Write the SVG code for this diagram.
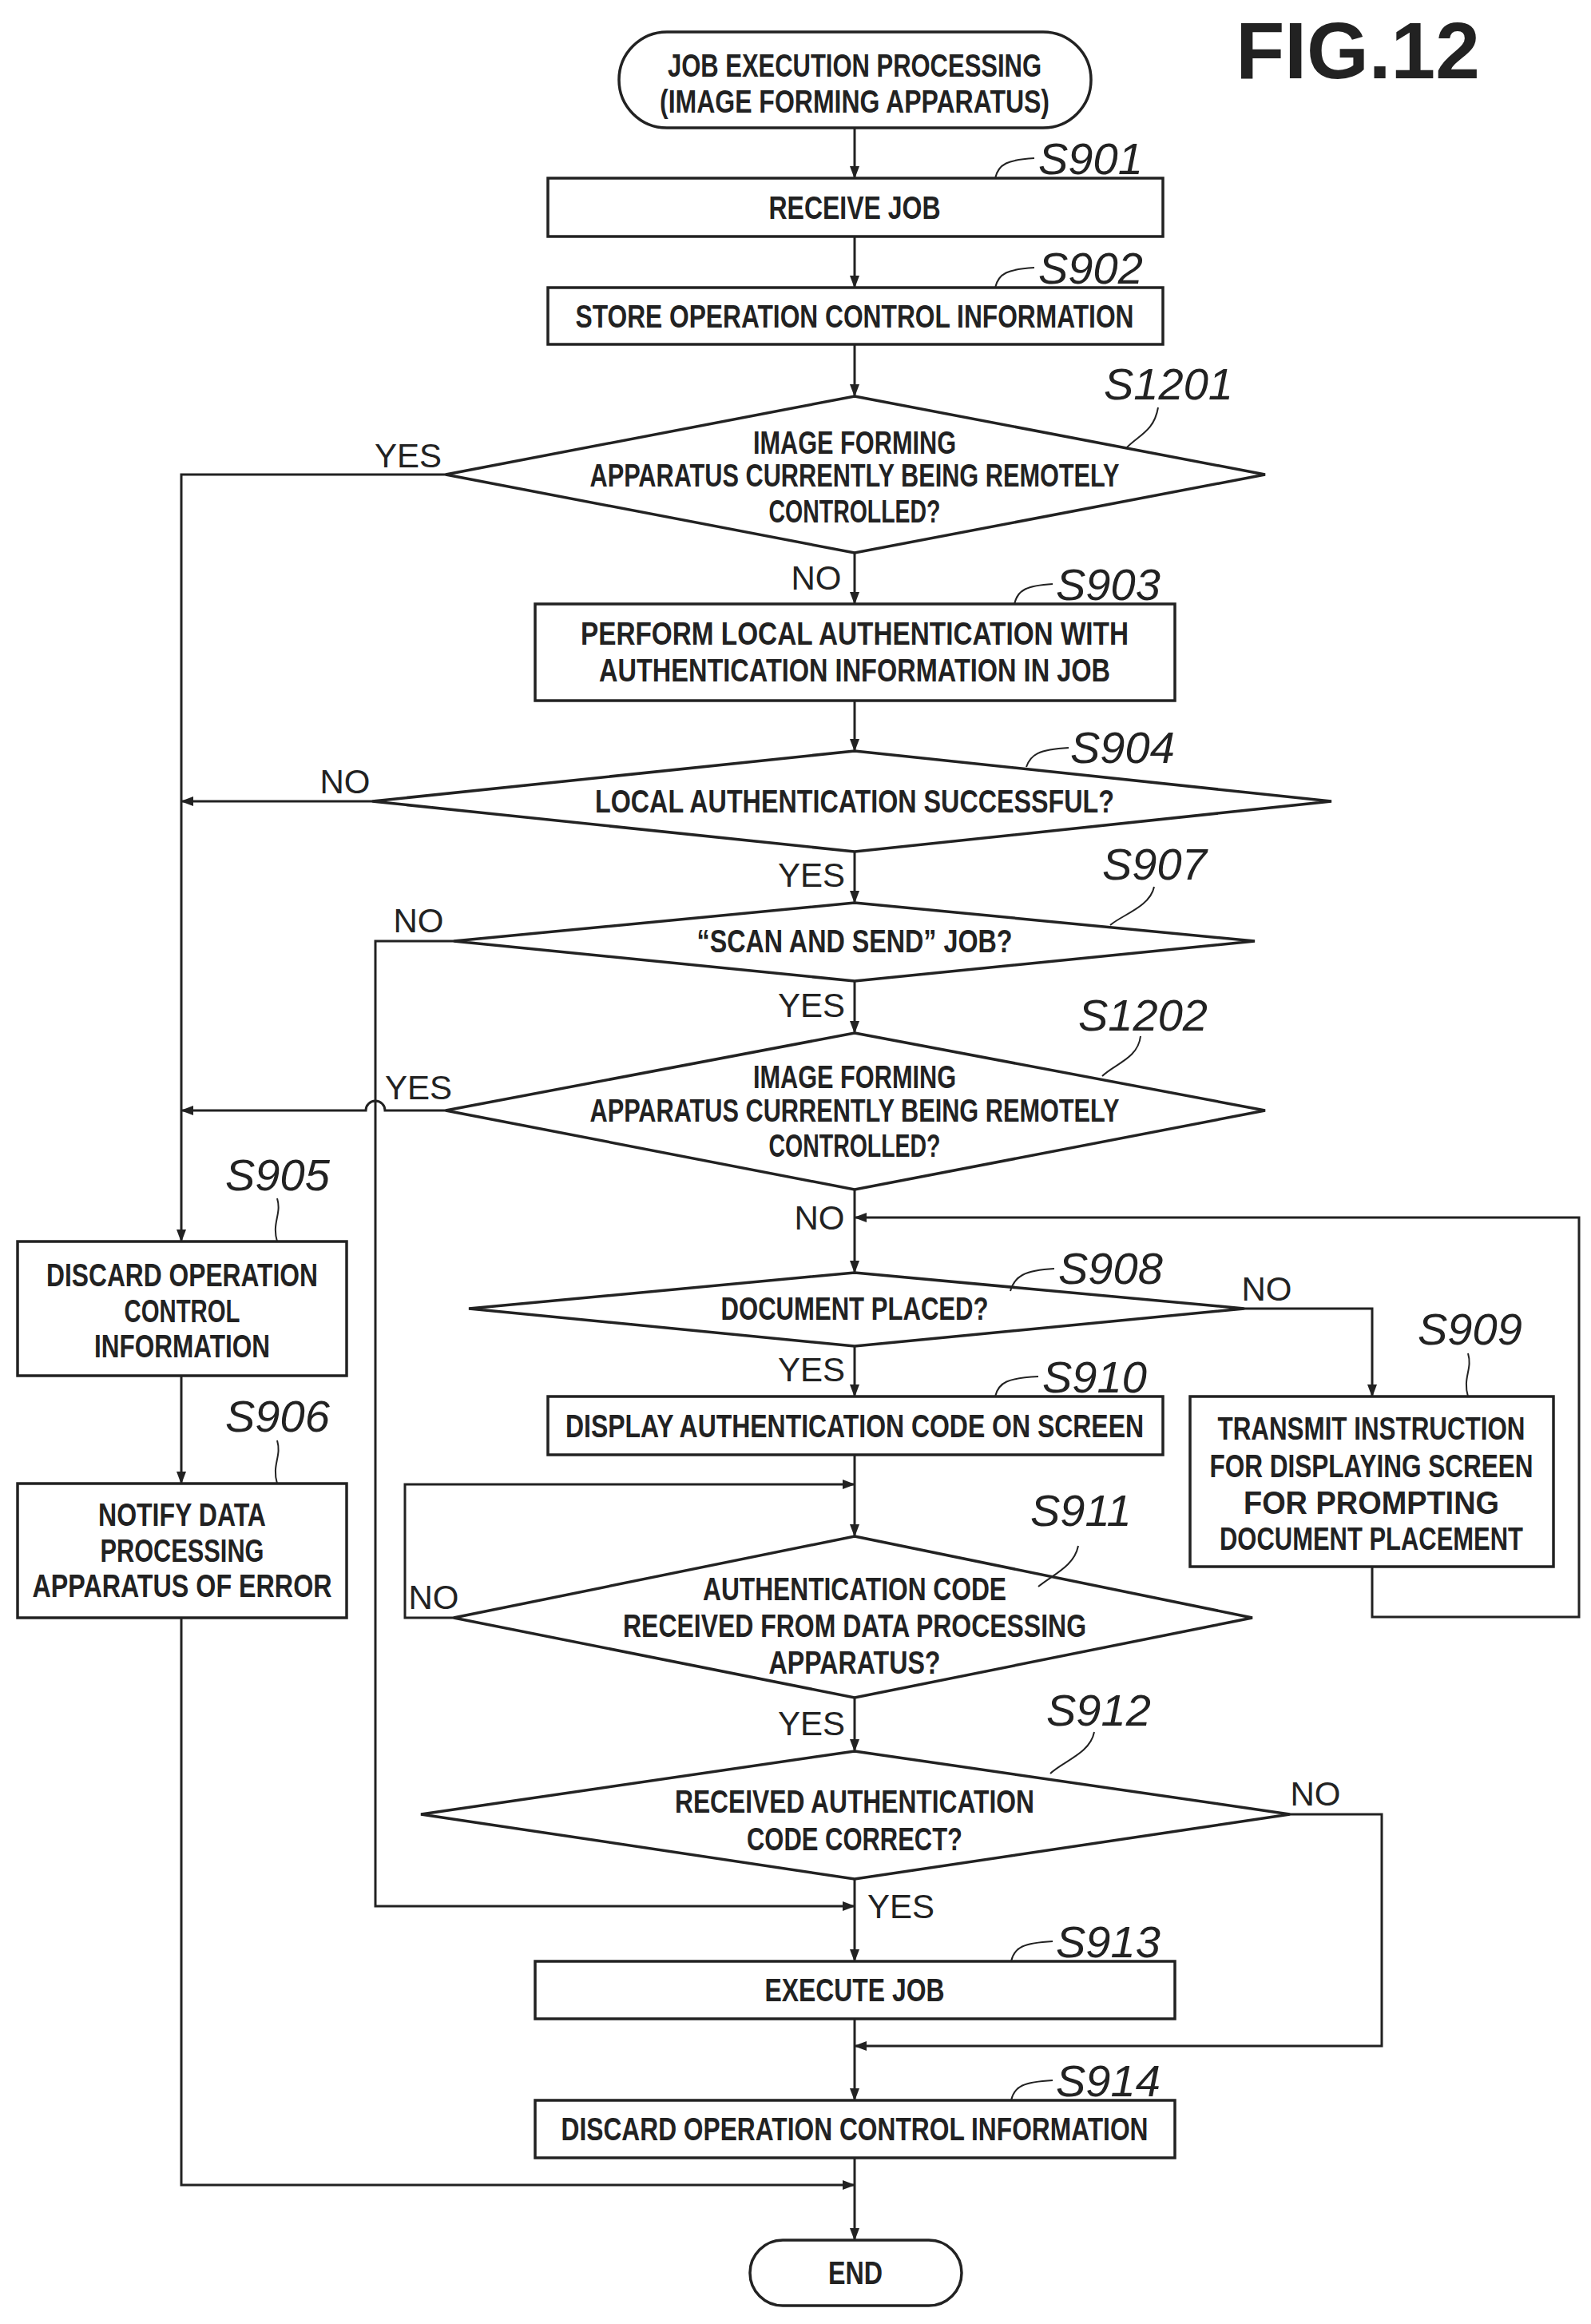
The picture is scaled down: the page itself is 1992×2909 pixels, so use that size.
<svg xmlns="http://www.w3.org/2000/svg" width="1992" height="2909" viewBox="0 0 1992 2909">
<style>
.b{fill:#fff;stroke:#222;stroke-width:3.5}
.t{font-family:"Liberation Sans",Arial,sans-serif;font-size:40px;font-weight:bold;fill:#222;text-anchor:middle}
.s{font-family:"Liberation Sans",Arial,sans-serif;font-size:56px;font-style:italic;fill:#222}
.l{font-family:"Liberation Sans",Arial,sans-serif;font-size:42px;fill:#222;text-anchor:middle}
.c{fill:none;stroke:#222;stroke-width:3}
.ld{fill:none;stroke:#222;stroke-width:2}
</style>
<defs><marker id="a" markerWidth="16" markerHeight="12" refX="15" refY="6" orient="auto" markerUnits="userSpaceOnUse"><path d="M0,0 L16,6 L0,12 Z" fill="#222"/></marker></defs>
<rect width="1992" height="2909" fill="#fff"/>
<text x="1700" y="98" style="font-family:'Liberation Sans',Arial,sans-serif;font-size:100px;font-weight:bold;fill:#222;text-anchor:middle">FIG.12</text>
<g id="connectors">
<path class="c" marker-end="url(#a)" d="M1070,160V223"/>
<path class="c" marker-end="url(#a)" d="M1070,296V360"/>
<path class="c" marker-end="url(#a)" d="M1070,431V496"/>
<path class="c" marker-end="url(#a)" d="M1070,692V756"/>
<path class="c" marker-end="url(#a)" d="M1070,877V940"/>
<path class="c" marker-end="url(#a)" d="M1070,1066V1130"/>
<path class="c" marker-end="url(#a)" d="M1070,1228V1293"/>
<path class="c" marker-end="url(#a)" d="M1070,1489V1593"/>
<path class="c" marker-end="url(#a)" d="M1070,1685V1748"/>
<path class="c" marker-end="url(#a)" d="M1070,1821V1923"/>
<path class="c" marker-end="url(#a)" d="M1070,2125V2192"/>
<path class="c" marker-end="url(#a)" d="M1070,2352V2455"/>
<path class="c" marker-end="url(#a)" d="M1070,2527V2629"/>
<path class="c" marker-end="url(#a)" d="M1070,2701V2804"/>
<path class="c" marker-end="url(#a)" d="M558,594H227V1554"/>
<path class="c" marker-end="url(#a)" d="M466,1003H227"/>
<path class="c" marker-end="url(#a)" d="M558,1390H482A12,12 0 0 0 458,1390H227"/>
<path class="c" marker-end="url(#a)" d="M227,1722V1857"/>
<path class="c" marker-end="url(#a)" d="M227,2025V2735H1070"/>
<path class="c" marker-end="url(#a)" d="M568,1178H470V2386H1070"/>
<path class="c" marker-end="url(#a)" d="M1558,1638H1718V1748"/>
<path class="c" marker-end="url(#a)" d="M1718,1961V2024H1977V1524H1070"/>
<path class="c" marker-end="url(#a)" d="M568,2025H507V1858H1070"/>
<path class="c" marker-end="url(#a)" d="M1615,2271H1730V2561H1070"/>
<text class="l" x="511" y="585">YES</text>
<text class="l" x="1022" y="738">NO</text>
<text class="l" x="432" y="993">NO</text>
<text class="l" x="1016" y="1110">YES</text>
<text class="l" x="524" y="1167">NO</text>
<text class="l" x="1016" y="1273">YES</text>
<text class="l" x="524" y="1376">YES</text>
<text class="l" x="1026" y="1539">NO</text>
<text class="l" x="1586" y="1628">NO</text>
<text class="l" x="1016" y="1729">YES</text>
<text class="l" x="543" y="2014">NO</text>
<text class="l" x="1016" y="2172">YES</text>
<text class="l" x="1647" y="2260">NO</text>
<text class="l" x="1128" y="2401">YES</text>
</g>
<g id="start"><rect class="b" x="775" y="40" width="591" height="120" rx="60"/><text class="t" x="1070" y="96" textLength="468" lengthAdjust="spacingAndGlyphs">JOB EXECUTION PROCESSING</text><text class="t" x="1070" y="141" textLength="488" lengthAdjust="spacingAndGlyphs">(IMAGE FORMING APPARATUS)</text></g>
<g id="S901"><rect class="b" x="686" y="223" width="770" height="73"/><text class="t" x="1070" y="274" textLength="215" lengthAdjust="spacingAndGlyphs">RECEIVE JOB</text><path class="ld" d="M1246,223C1250,205 1262,200 1295,198"/><text class="s" x="1300" y="218">S901</text></g>
<g id="S902"><rect class="b" x="686" y="360" width="770" height="71"/><text class="t" x="1070" y="410" textLength="699" lengthAdjust="spacingAndGlyphs">STORE OPERATION CONTROL INFORMATION</text><path class="ld" d="M1246,360C1250,342 1262,337 1295,335"/><text class="s" x="1300" y="355">S902</text></g>
<g id="S1201"><polygon class="b" points="1070,496 1584,594 1070,692 558,594"/><text class="t" x="1070" y="568" textLength="254" lengthAdjust="spacingAndGlyphs">IMAGE FORMING</text><text class="t" x="1070" y="609" textLength="663" lengthAdjust="spacingAndGlyphs">APPARATUS CURRENTLY BEING REMOTELY</text><text class="t" x="1070" y="654" textLength="215" lengthAdjust="spacingAndGlyphs">CONTROLLED?</text><path class="ld" d="M1410,561C1425,545 1445,540 1450,510"/><text class="s" x="1382" y="500">S1201</text></g>
<g id="S903"><rect class="b" x="670" y="756" width="801" height="121"/><text class="t" x="1070" y="807" textLength="686" lengthAdjust="spacingAndGlyphs">PERFORM LOCAL AUTHENTICATION WITH</text><text class="t" x="1070" y="853" textLength="640" lengthAdjust="spacingAndGlyphs">AUTHENTICATION INFORMATION IN JOB</text><path class="ld" d="M1270,756C1274,738 1286,733 1318,731"/><text class="s" x="1322" y="751">S903</text></g>
<g id="S904"><polygon class="b" points="1070,940 1667,1003 1070,1066 466,1003"/><text class="t" x="1070" y="1017" textLength="650" lengthAdjust="spacingAndGlyphs">LOCAL AUTHENTICATION SUCCESSFUL?</text><path class="ld" d="M1285,960C1290,945 1300,938 1338,936"/><text class="s" x="1340" y="955">S904</text></g>
<g id="S907"><polygon class="b" points="1070,1130 1571,1178 1070,1228 568,1178"/><text class="t" x="1070" y="1192" textLength="395" lengthAdjust="spacingAndGlyphs">“SCAN AND SEND” JOB?</text><path class="ld" d="M1390,1158C1405,1145 1440,1135 1445,1110"/><text class="s" x="1380" y="1101">S907</text></g>
<g id="S1202"><polygon class="b" points="1070,1293 1584,1390 1070,1489 558,1390"/><text class="t" x="1070" y="1362" textLength="254" lengthAdjust="spacingAndGlyphs">IMAGE FORMING</text><text class="t" x="1070" y="1404" textLength="663" lengthAdjust="spacingAndGlyphs">APPARATUS CURRENTLY BEING REMOTELY</text><text class="t" x="1070" y="1448" textLength="215" lengthAdjust="spacingAndGlyphs">CONTROLLED?</text><path class="ld" d="M1380,1347C1395,1332 1425,1325 1428,1297"/><text class="s" x="1350" y="1290">S1202</text></g>
<g id="S905"><rect class="b" x="22" y="1554" width="412" height="168"/><text class="t" x="228" y="1610" textLength="340" lengthAdjust="spacingAndGlyphs">DISCARD OPERATION</text><text class="t" x="228" y="1655" textLength="145" lengthAdjust="spacingAndGlyphs">CONTROL</text><text class="t" x="228" y="1699" textLength="220" lengthAdjust="spacingAndGlyphs">INFORMATION</text><path class="ld" d="M347,1554C340,1530 353,1520 347,1500"/><text class="s" x="282" y="1490">S905</text></g>
<g id="S906"><rect class="b" x="22" y="1857" width="412" height="168"/><text class="t" x="228" y="1910" textLength="210" lengthAdjust="spacingAndGlyphs">NOTIFY DATA</text><text class="t" x="228" y="1955" textLength="205" lengthAdjust="spacingAndGlyphs">PROCESSING</text><text class="t" x="228" y="1999" textLength="375" lengthAdjust="spacingAndGlyphs">APPARATUS OF ERROR</text><path class="ld" d="M347,1857C340,1833 353,1823 347,1803"/><text class="s" x="282" y="1792">S906</text></g>
<g id="S908"><polygon class="b" points="1070,1593 1558,1638 1070,1685 587,1638"/><text class="t" x="1070" y="1652" textLength="335" lengthAdjust="spacingAndGlyphs">DOCUMENT PLACED?</text><path class="ld" d="M1265,1616C1270,1598 1282,1590 1320,1588"/><text class="s" x="1325" y="1607">S908</text></g>
<g id="S909"><rect class="b" x="1490" y="1748" width="455" height="213"/><text class="t" x="1717" y="1802" textLength="385" lengthAdjust="spacingAndGlyphs">TRANSMIT INSTRUCTION</text><text class="t" x="1717" y="1849" textLength="405" lengthAdjust="spacingAndGlyphs">FOR DISPLAYING SCREEN</text><text class="t" x="1717" y="1895" textLength="320" lengthAdjust="spacingAndGlyphs">FOR PROMPTING</text><text class="t" x="1717" y="1940" textLength="380" lengthAdjust="spacingAndGlyphs">DOCUMENT PLACEMENT</text><path class="ld" d="M1838,1748C1831,1724 1844,1714 1838,1694"/><text class="s" x="1775" y="1683">S909</text></g>
<g id="S910"><rect class="b" x="686" y="1748" width="770" height="73"/><text class="t" x="1070" y="1799" textLength="724" lengthAdjust="spacingAndGlyphs">DISPLAY AUTHENTICATION CODE ON SCREEN</text><path class="ld" d="M1246,1748C1250,1730 1262,1725 1300,1723"/><text class="s" x="1305" y="1743">S910</text></g>
<g id="S911"><polygon class="b" points="1070,1923 1568,2025 1070,2125 568,2025"/><text class="t" x="1070" y="2003" textLength="380" lengthAdjust="spacingAndGlyphs">AUTHENTICATION CODE</text><text class="t" x="1070" y="2049" textLength="580" lengthAdjust="spacingAndGlyphs">RECEIVED FROM DATA PROCESSING</text><text class="t" x="1070" y="2095" textLength="215" lengthAdjust="spacingAndGlyphs">APPARATUS?</text><path class="ld" d="M1300,1986C1320,1970 1345,1960 1350,1935"/><text class="s" x="1290" y="1910">S911</text></g>
<g id="S912"><polygon class="b" points="1070,2192 1615,2271 1070,2352 527,2271"/><text class="t" x="1070" y="2269" textLength="450" lengthAdjust="spacingAndGlyphs">RECEIVED AUTHENTICATION</text><text class="t" x="1070" y="2316" textLength="270" lengthAdjust="spacingAndGlyphs">CODE CORRECT?</text><path class="ld" d="M1315,2220C1330,2205 1365,2195 1370,2168"/><text class="s" x="1310" y="2160">S912</text></g>
<g id="S913"><rect class="b" x="670" y="2455" width="801" height="72"/><text class="t" x="1070" y="2505" textLength="225" lengthAdjust="spacingAndGlyphs">EXECUTE JOB</text><path class="ld" d="M1266,2455C1270,2437 1282,2432 1318,2430"/><text class="s" x="1322" y="2450">S913</text></g>
<g id="S914"><rect class="b" x="670" y="2629" width="801" height="72"/><text class="t" x="1070" y="2679" textLength="735" lengthAdjust="spacingAndGlyphs">DISCARD OPERATION CONTROL INFORMATION</text><path class="ld" d="M1266,2629C1270,2611 1282,2606 1318,2604"/><text class="s" x="1322" y="2624">S914</text></g>
<g id="end"><rect class="b" x="939" y="2804" width="265" height="82" rx="41"/><text class="t" x="1071" y="2859" textLength="68" lengthAdjust="spacingAndGlyphs">END</text></g>
</svg>
